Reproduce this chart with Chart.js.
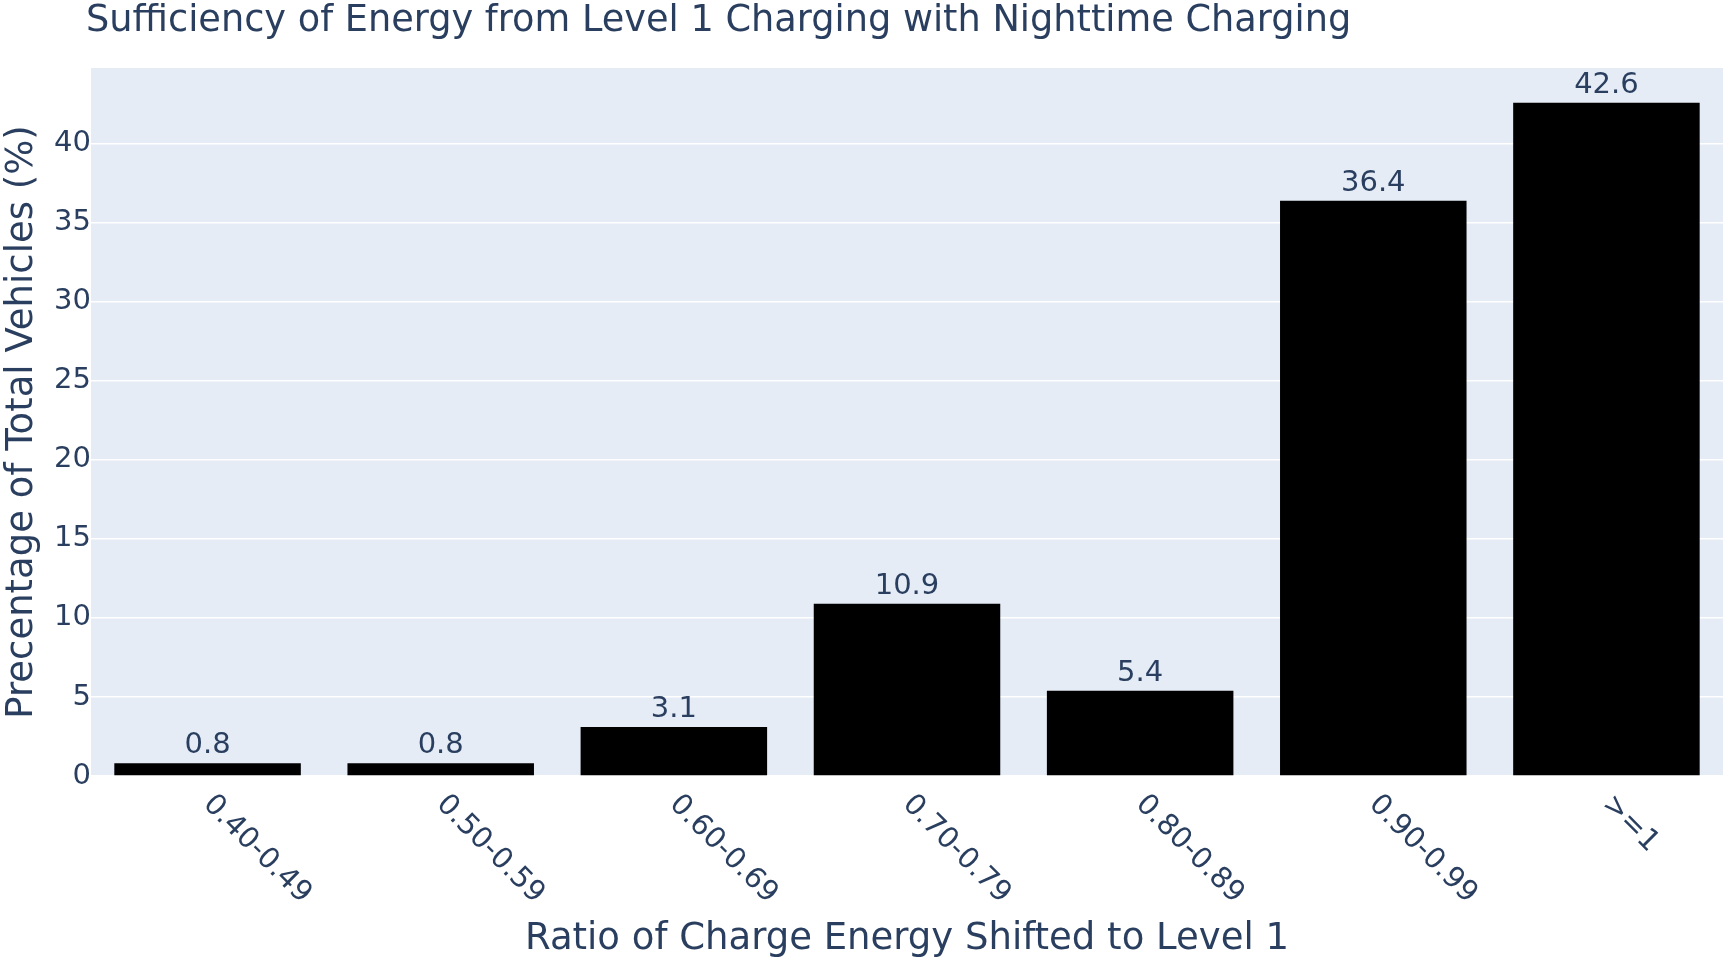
<!DOCTYPE html>
<html>
<head>
<meta charset="utf-8">
<title>Sufficiency of Energy from Level 1 Charging</title>
<script src="https://cdn.jsdelivr.net/npm/chart.js@4.4.1/dist/chart.umd.min.js"></script>
<style>
  html, body { margin: 0; padding: 0; background: #fff; }
  #wrap { width: 1725px; height: 963px; position: relative; }
</style>
</head>
<body>
<div id="wrap"><canvas id="myChart"></canvas></div>
<script>
// data
const categories = ['0.40-0.49', '0.50-0.59', '0.60-0.69', '0.70-0.79', '0.80-0.89', '0.90-0.99', '>=1'];
const shares = [0.8, 0.8, 3.1, 10.9, 5.4, 36.4, 42.6];
const yTicks = [0, 5, 10, 15, 20, 25, 30, 35, 40];
const yMax = 44.8;

const chartTitle = 'Sufficiency of Energy from Level 1 Charging with Nighttime Charging';
const xTitle = 'Ratio of Charge Energy Shifted to Level 1';
const yTitle = 'Precentage of Total Vehicles (%)';

const textColor = '#2a3f5f';
const fontFamily = '"DejaVu Sans", Verdana, sans-serif';

Chart.defaults.font.family = fontFamily;
Chart.defaults.color = textColor;

// plot background + title, rotated x labels, value labels
const plotlyLook = {
    id: 'plotlyLook',
    beforeDraw(chart) {
        const { ctx, chartArea: a } = chart;
        ctx.save();
        ctx.fillStyle = '#e5ecf6';
        ctx.fillRect(a.left, a.top, a.right - a.left, a.bottom - a.top);
        ctx.restore();
    },
    afterDatasetsDraw(chart) {
        const { ctx } = chart;
        const meta = chart.getDatasetMeta(0);
        ctx.save();
        ctx.fillStyle = textColor;
        ctx.font = '29px ' + fontFamily;
        ctx.textAlign = 'center';
        ctx.textBaseline = 'alphabetic';
        meta.data.forEach((bar, i) => {
            ctx.fillText(String(shares[i]), bar.x, bar.y - 10);
        });
        ctx.restore();
    },
    afterDraw(chart) {
        const { ctx } = chart;
        const xs = chart.scales.x;
        ctx.save();
        ctx.fillStyle = textColor;
        // title
        ctx.font = '36.7px ' + fontFamily;
        ctx.textAlign = 'left';
        ctx.textBaseline = 'alphabetic';
        ctx.fillText(chartTitle, 86, 31);
        // x tick labels, turned 45 degrees clockwise
        ctx.font = '29px ' + fontFamily;
        ctx.textBaseline = 'middle';
        categories.forEach((c, i) => {
            const x = xs.getPixelForValue(i);
            ctx.save();
            ctx.translate(x, xs.top + 24);
            ctx.rotate(Math.PI / 4);
            ctx.fillText(c, 0, 0);
            ctx.restore();
        });
        ctx.restore();
    }
};

const ctx = document.getElementById('myChart').getContext('2d');
const chart = new Chart(ctx, {
    type: 'bar',
    data: {
        labels: categories,
        datasets: [{
            data: shares,
            backgroundColor: '#000000',
            borderWidth: 0,
            barPercentage: 0.8,
            categoryPercentage: 1.0
        }]
    },
    options: {
        responsive: true,
        maintainAspectRatio: false,
        animation: false,
        layout: { padding: { left: 0, right: 2, top: 68, bottom: 0 } },
        plugins: {
            legend: { display: false },
            tooltip: { enabled: false },
            title: { display: false }
        },
        scales: {
            x: {
                grid: { display: false },
                border: { display: false },
                ticks: { display: false },
                title: {
                    display: true,
                    text: xTitle,
                    font: { size: 37 },
                    padding: { top: 0, bottom: 1 }
                },
                afterFit: (s) => { s.height = 187; }
            },
            y: {
                min: 0,
                max: yMax,
                afterBuildTicks: (s) => { s.ticks = yTicks.map(v => ({ value: v })); },
                grid: { color: '#ffffff', lineWidth: 1.5, drawTicks: false },
                border: { display: false },
                ticks: { font: { size: 29 }, padding: 0 },
                title: {
                    display: true,
                    text: yTitle,
                    font: { size: 37 },
                    padding: { top: 0, bottom: 0 }
                },
                afterFit: (s) => { s.width = 91; }
            }
        }
    },
    plugins: [plotlyLook]
});
</script>
</body>
</html>
